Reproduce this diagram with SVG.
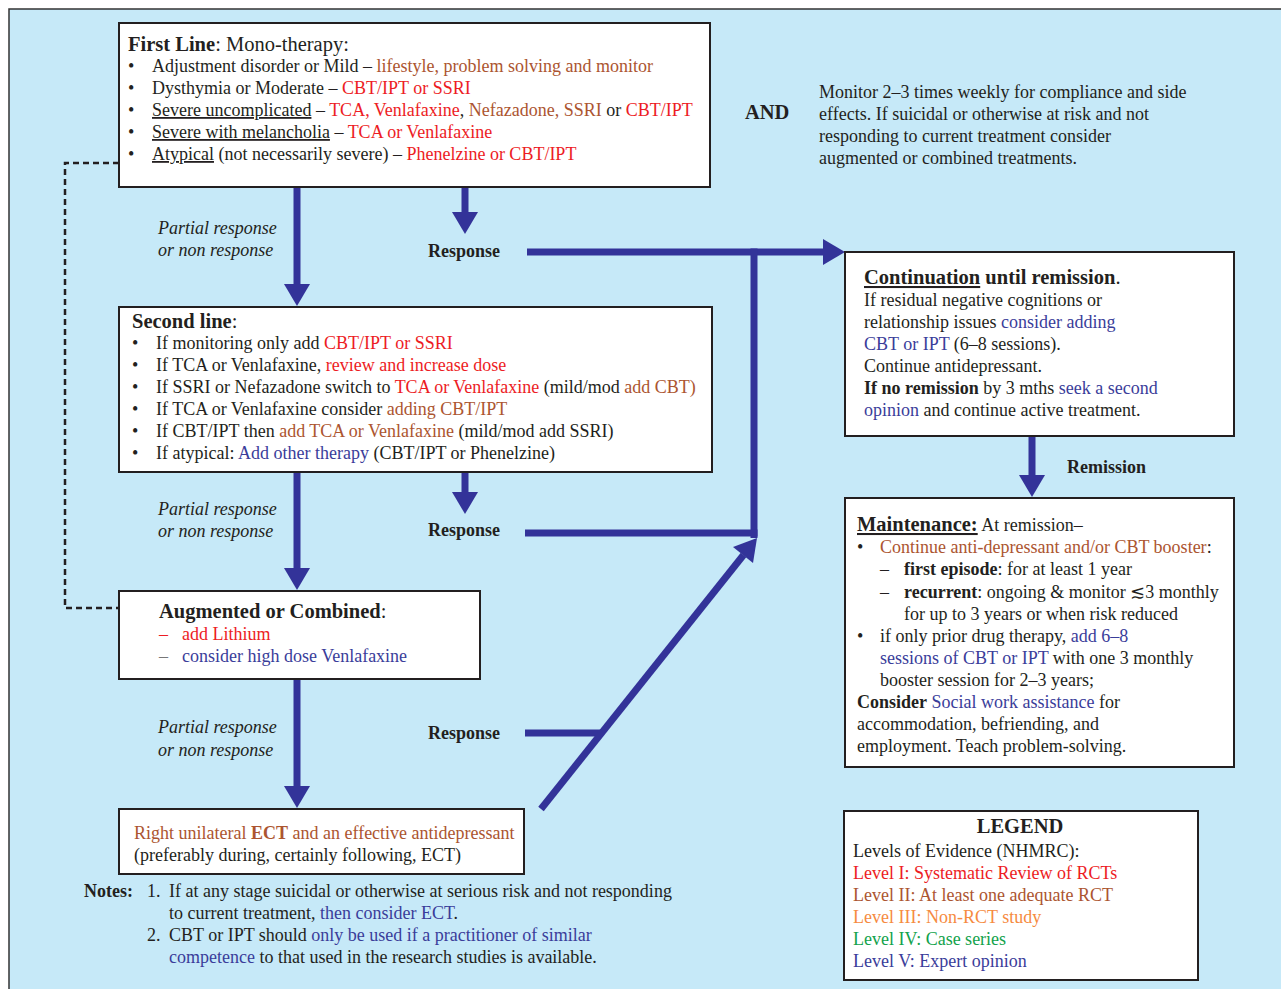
<svg xmlns="http://www.w3.org/2000/svg" width="1281" height="989" viewBox="0 0 1281 989">
<style>
text{font-family:"Liberation Serif","Times New Roman",serif;font-size:18px;fill:#231f20}
.t{font-size:20.5px}
.b{font-weight:bold}
.i{font-style:italic}
.u{text-decoration:underline}
.r{fill:#ed1c24}
.br{fill:#ac5530}
.bl{fill:#3a3d9a}
.or{fill:#f68b3f}
.gr{fill:#12a24b}
.gy{fill:#777}
.box{fill:#fff;stroke:#231f20;stroke-width:2}
.arr{stroke:#333399;stroke-width:7;fill:none}
</style>
<defs>
<marker id="ah" markerUnits="userSpaceOnUse" markerWidth="22" markerHeight="26" viewBox="0 0 22 26" refX="0" refY="13" orient="auto">
<path d="M0,0 L22,13 L0,26 z" fill="#333399"/>
</marker>
</defs>
<rect x="0" y="0" width="1281" height="989" fill="#fff"/>
<rect x="9" y="9" width="1290" height="1000" fill="#c6e9f8" stroke="#333" stroke-width="1.5"/>

<g id="connectors">
<line class="arr" x1="297" y1="187" x2="297" y2="284" marker-end="url(#ah)"/>
<line class="arr" x1="465" y1="187" x2="465" y2="212" marker-end="url(#ah)"/>
<line class="arr" x1="527" y1="252" x2="823" y2="252" marker-end="url(#ah)"/>
<line class="arr" x1="754" y1="248.5" x2="754" y2="538"/>
<line class="arr" x1="525" y1="533" x2="757.5" y2="533"/>
<line class="arr" x1="465" y1="472" x2="465" y2="492" marker-end="url(#ah)"/>
<line class="arr" x1="297" y1="472" x2="297" y2="568" marker-end="url(#ah)"/>
<line class="arr" x1="297" y1="679" x2="297" y2="786" marker-end="url(#ah)"/>
<line class="arr" x1="525" y1="733" x2="603" y2="733"/>
<line class="arr" x1="541" y1="809" x2="743.5" y2="555"/>
<polygon points="757,538 733,547 753,563" fill="#333399"/>
<line class="arr" x1="1032" y1="436" x2="1032" y2="475" marker-end="url(#ah)"/>
<path d="M119,163 H65 V608 H144" fill="none" stroke="#231f20" stroke-width="2.5" stroke-dasharray="6,4"/>
<polygon points="145,603 155,608 145,613" fill="#231f20"/>
</g>

<g id="first-line">
<rect class="box" x="119" y="23" width="591" height="164"/>
<text class="t" x="128" y="51"><tspan class="b">First Line</tspan>: Mono-therapy:</text>
<text x="128" y="72">•</text>
<text x="152" y="72">Adjustment disorder or Mild – <tspan class="br">lifestyle, problem solving and monitor</tspan></text>
<text x="128" y="94">•</text>
<text x="152" y="94">Dysthymia or Moderate –  <tspan class="r">CBT/IPT or SSRI</tspan></text>
<text x="128" y="116">•</text>
<text x="152" y="116"><tspan class="u">Severe uncomplicated</tspan> – <tspan class="r">TCA, Venlafaxine</tspan>, <tspan class="br">Nefazadone, SSRI</tspan> or <tspan class="r">CBT/IPT</tspan></text>
<text x="128" y="138">•</text>
<text x="152" y="138"><tspan class="u">Severe with melancholia</tspan> – <tspan class="r">TCA or Venlafaxine</tspan></text>
<text x="128" y="160">•</text>
<text x="152" y="160"><tspan class="u">Atypical</tspan> (not necessarily severe) – <tspan class="r">Phenelzine or CBT/IPT</tspan></text>
</g>

<g id="and-note">
<text class="t b" x="745" y="119">AND</text>
<text x="819" y="98">Monitor 2–3 times weekly for compliance and side</text>
<text x="819" y="120">effects. If suicidal or otherwise at risk and not</text>
<text x="819" y="142">responding to current treatment consider</text>
<text x="819" y="164">augmented or combined treatments.</text>
</g>

<g id="labels">
<text class="i" x="158" y="234">Partial response</text>
<text class="i" x="158" y="256">or non response</text>
<text class="b" x="428" y="257">Response</text>
<text class="i" x="158" y="515">Partial response</text>
<text class="i" x="158" y="537">or non response</text>
<text class="b" x="428" y="536">Response</text>
<text class="i" x="158" y="733">Partial response</text>
<text class="i" x="158" y="756">or non response</text>
<text class="b" x="428" y="739">Response</text>
<text class="b" x="1067" y="473">Remission</text>
</g>

<g id="second-line">
<rect class="box" x="119" y="307" width="593" height="165"/>
<text class="t" x="132" y="328"><tspan class="b">Second line</tspan>:</text>
<text x="132" y="349">•</text>
<text x="156" y="349">If monitoring only add <tspan class="r">CBT/IPT or SSRI</tspan></text>
<text x="132" y="371">•</text>
<text x="156" y="371">If TCA or Venlafaxine, <tspan class="r">review and increase dose</tspan></text>
<text x="132" y="393">•</text>
<text x="156" y="393">If SSRI or Nefazadone switch to <tspan class="r">TCA or Venlafaxine</tspan> (mild/mod <tspan class="br">add CBT)</tspan></text>
<text x="132" y="415">•</text>
<text x="156" y="415">If TCA or Venlafaxine consider <tspan class="br">adding CBT/IPT</tspan></text>
<text x="132" y="437">•</text>
<text x="156" y="437">If CBT/IPT then <tspan class="br">add TCA or Venlafaxine</tspan> (mild/mod add SSRI)</text>
<text x="132" y="459">•</text>
<text x="156" y="459">If atypical: <tspan class="bl">Add other therapy</tspan> (CBT/IPT or Phenelzine)</text>
</g>

<g id="augmented">
<rect class="box" x="119" y="591" width="361" height="88"/>
<text class="t" x="159" y="618"><tspan class="b">Augmented or Combined</tspan>:</text>
<text class="r" x="159" y="640">–</text>
<text class="r" x="182" y="640">add Lithium</text>
<text class="gy" x="159" y="662">–</text>
<text class="bl" x="182" y="662">consider high dose Venlafaxine</text>
</g>

<g id="ect">
<rect class="box" x="119" y="809" width="405" height="65"/>
<text class="br" x="134" y="839">Right unilateral <tspan class="b">ECT</tspan> and an effective antidepressant</text>
<text x="134" y="861">(preferably during, certainly following, ECT)</text>
</g>

<g id="notes">
<text class="b" x="84" y="897">Notes:</text>
<text x="147" y="897">1.</text>
<text x="169" y="897">If at any stage  suicidal or otherwise at serious risk and not responding</text>
<text x="169" y="919">to current treatment, <tspan class="bl">then consider ECT</tspan>.</text>
<text x="147" y="941">2.</text>
<text x="169" y="941">CBT or IPT should <tspan class="bl">only be used if a practitioner of similar</tspan></text>
<text x="169" y="963"><tspan class="bl">competence</tspan> to that used in the research studies is available.</text>
</g>

<g id="continuation">
<rect class="box" x="845" y="252" width="389" height="184"/>
<text class="t b" x="864" y="284"><tspan class="u">Continuation</tspan> until remission<tspan font-weight="normal">.</tspan></text>
<text x="864" y="306">If residual negative cognitions or</text>
<text x="864" y="328">relationship issues <tspan class="bl">consider adding</tspan></text>
<text x="864" y="350"><tspan class="bl">CBT or IPT</tspan> (6–8 sessions).</text>
<text x="864" y="372">Continue antidepressant.</text>
<text x="864" y="394"><tspan class="b">If no remission</tspan> by 3 mths <tspan class="bl">seek a second</tspan></text>
<text x="864" y="416"><tspan class="bl">opinion</tspan> and continue active treatment.</text>
</g>

<g id="maintenance">
<rect class="box" x="845" y="498" width="389" height="269"/>
<text x="857" y="531"><tspan class="t b u">Maintenance:</tspan> At remission–</text>
<text x="857" y="553">•</text>
<text class="br" x="880" y="553">Continue anti-depressant and/or CBT booster<tspan fill="#231f20">:</tspan></text>
<text x="880" y="575">–</text>
<text x="904" y="575"><tspan class="b">first episode</tspan>: for at least 1 year</text>
<text x="880" y="598">–</text>
<text x="904" y="598"><tspan class="b">recurrent</tspan>: ongoing &amp; monitor ≲3 monthly</text>
<text x="904" y="620">for up to 3 years or when risk reduced</text>
<text x="857" y="642">•</text>
<text x="880" y="642">if only  prior drug therapy, <tspan class="bl">add 6–8</tspan></text>
<text x="880" y="664"><tspan class="bl">sessions of CBT or IPT</tspan> with one 3 monthly</text>
<text x="880" y="686">booster session for 2–3 years;</text>
<text x="857" y="708"><tspan class="b">Consider</tspan> <tspan class="bl">Social work assistance</tspan> for</text>
<text x="857" y="730">accommodation, befriending, and</text>
<text x="857" y="752">employment. Teach problem-solving.</text>
</g>

<g id="legend">
<rect class="box" x="844" y="811" width="354" height="169"/>
<text class="t b" x="1020" y="833" text-anchor="middle">LEGEND</text>
<text x="853" y="857">Levels of Evidence (NHMRC):</text>
<text class="r" x="853" y="879">Level I: Systematic Review of RCTs</text>
<text class="br" x="853" y="901">Level II: At least one adequate RCT</text>
<text class="or" x="853" y="923">Level III: Non-RCT study</text>
<text class="gr" x="853" y="945">Level IV: Case series</text>
<text class="bl" x="853" y="967">Level V: Expert opinion</text>
</g>
</svg>
